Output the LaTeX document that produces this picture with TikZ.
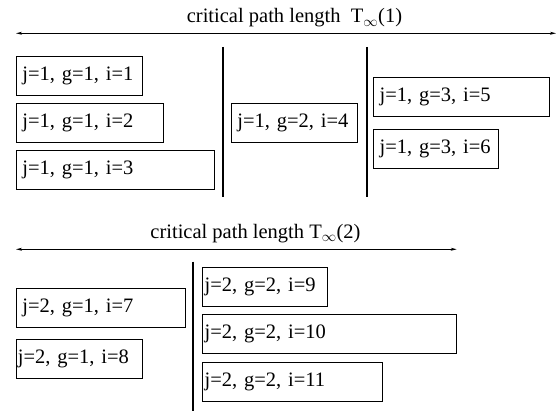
\documentclass[tikz,border=0pt]{standalone}
\usepackage{fontspec}
\setmainfont{Liberation Serif}
\usetikzlibrary{arrows.meta}
\newcommand{\tfont}{\fontsize{20.5}{24}\selectfont}
\tikzset{
  box/.style={draw, line width=0.8pt, font=\tfont, align=left, inner ysep=0pt,
    minimum height=39pt, anchor=north west},
  sep/.style={line width=1.8pt},
  span/.style={line width=0.8pt, {Stealth[length=6pt,width=3pt]}-{Stealth[length=6pt,width=3pt]}},
  ttl/.style={font=\tfont, anchor=base, inner sep=0pt}
}
\begin{document}
\begin{tikzpicture}[x=1pt,y=-1pt]
\useasboundingbox (0,0) rectangle (557,414);
% section 1
\node[ttl] (t1) at (294.5,23) {critical path length\ \ T$_\infty$(1)};
\coordinate (a1l) at (16,33.3);
\coordinate (a1r) at (556,33.3);
\draw[span] (a1l) -- (a1r);
\node[box, inner xsep=6pt, text width=113.7pt] (b1) at (16,56) {j=1, g=1, i=1};
\node[box, inner xsep=6pt, text width=135pt] (b2) at (16,103) {j=1, g=1, i=2};
\node[box, inner xsep=6pt, text width=186pt] (b3) at (16,150) {j=1, g=1, i=3};
\coordinate (v1t) at (222.7,47);
\coordinate (v1b) at (222.7,197);
\draw[sep] (v1t) -- (v1b);
\node[box, inner xsep=6pt, text width=113.7pt] (b4) at (231,103) {j=1, g=2, i=4};
\coordinate (v2t) at (366.7,47);
\coordinate (v2b) at (366.7,197);
\draw[sep] (v2t) -- (v2b);
\node[box, inner xsep=6pt, text width=164pt] (b5) at (373.3,77.3) {j=1, g=3, i=5};
\node[box, inner xsep=6pt, text width=113pt] (b6) at (373.3,128.7) {j=1, g=3, i=6};
% section 2
\node[ttl] (t2) at (255.5,238.5) {critical path length T$_\infty$(2)};
\coordinate (a2l) at (16,249.3);
\coordinate (a2r) at (456.7,249.3);
\draw[span] (a2l) -- (a2r);
\node[box, inner xsep=6pt, text width=156.7pt] (b7) at (16,287.7) {j=2, g=1, i=7};
\node[box, inner xsep=1.5pt, text width=122.7pt] (b8) at (16,339.3) {j=2, g=1, i=8};
\coordinate (v3t) at (192.7,261.7);
\coordinate (v3b) at (192.7,411);
\draw[sep] (v3t) -- (v3b);
\node[box, inner xsep=2.5pt, text width=120pt] (b9) at (201.7,266.7) {j=2, g=2, i=9};
\node[box, inner xsep=2.5pt, text width=249pt] (b10) at (201.7,314) {j=2, g=2, i=10};
\node[box, inner xsep=2.5pt, text width=175.6pt] (b11) at (201.7,361.7) {j=2, g=2, i=11};
\end{tikzpicture}
\end{document}
